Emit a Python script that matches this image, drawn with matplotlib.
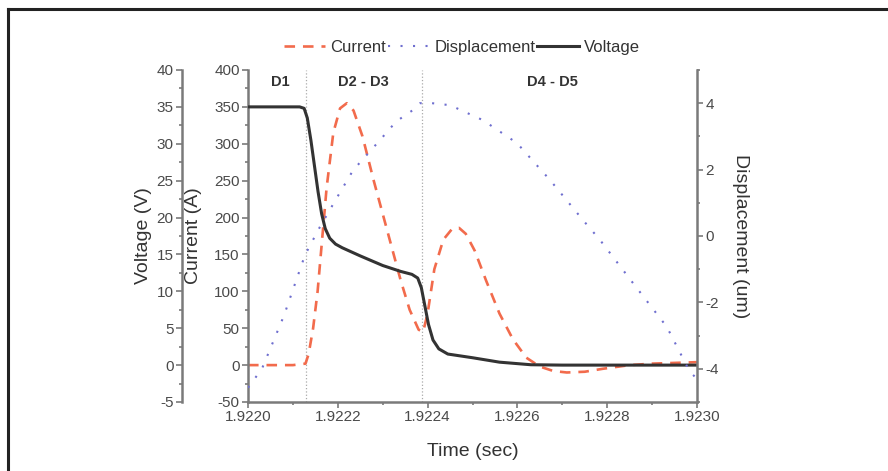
import numpy as np
import matplotlib
matplotlib.use("Agg")
import matplotlib.pyplot as plt
from matplotlib.ticker import MultipleLocator, FormatStrFormatter

plt.rcParams['font.family'] = ['Liberation Sans', 'DejaVu Sans']
plt.rcParams['axes.unicode_minus'] = False

T0 = 1.9220
# time offsets in units of 1e-4 s
t_volt = [0, 1.15, 1.25, 1.32, 1.4, 1.48, 1.56, 1.64, 1.72, 1.82, 1.95, 2.1, 2.5,
          3.0, 3.4, 3.65, 3.78, 3.86, 3.94, 4.02, 4.12, 4.25, 4.45, 5.0, 5.6,
          6.3, 7.0, 8.0, 9.0, 10.0]
voltage = [35, 35, 34.8, 33.5, 30.5, 27, 23.5, 20.5, 18.5, 17.2, 16.4, 15.9, 14.8,
           13.5, 12.7, 12.3, 11.8, 10.5, 8.0, 5.5, 3.4, 2.2, 1.5, 1.0, 0.4, 0.05,
           0, 0, 0, 0]

t_curr = [0, 1.0, 1.28, 1.35, 1.45, 1.55, 1.65, 1.75, 1.9, 2.05, 2.2, 2.35, 2.55,
          2.8, 3.0, 3.2, 3.4, 3.6, 3.8, 3.9, 4.0, 4.15, 4.35, 4.55, 4.7, 4.85, 5.05,
          5.3, 5.6, 5.9, 6.2, 6.5, 6.8, 7.1, 7.5, 7.9, 8.5, 9.0, 9.5, 10.0]
current = [0, 0, 2, 15, 50, 100, 170, 240, 315, 348, 355, 345, 310, 250, 205, 160,
           115, 75, 48, 45, 70, 130, 170, 185, 186, 178, 155, 115, 70, 35, 10, -2,
           -8, -10, -9, -5, 0, 2, 3, 4]

t_disp = [0, 0.31, 0.8, 1.27, 1.6, 2.0, 2.34, 2.94, 3.3, 3.67, 3.83, 4.1, 4.5, 5.23,
          5.99, 6.73, 7.46, 7.84, 8.57, 9.33, 9.84, 10.0]
displacement = [-4.57, -4.0, -2.4, -0.57, 0.27, 1.2, 1.98, 2.89, 3.45, 3.79, 4.0,
                4.0, 3.94, 3.49, 2.8, 1.68, 0.48, -0.12, -1.41, -2.74, -4.09, -4.3]

phase_lines = [1.29, 3.88]
phase_labels = ["D1", "D2 - D3", "D4 - D5"]
phase_label_x = [0.73, 2.56, 6.79]

t_v = T0 + np.array(t_volt) * 1e-4
t_c = T0 + np.array(t_curr) * 1e-4
t_d = T0 + np.array(t_disp) * 1e-4

spine_c = '#7a7a7a'
text_c = '#4a4a4a'
lab_c = '#333333'

fig = plt.figure(figsize=(8.88, 4.71), dpi=100)
ax = fig.add_axes([0.2793, 0.1465, 0.5056, 0.7049])
ax_v = ax.twinx()
ax_d = ax.twinx()

# voltage axis moved to the far left (66 px = 47.5 pt)
ax_v.yaxis.set_label_position('left')
ax_v.yaxis.set_ticks_position('left')
ax_v.spines['left'].set_position(('outward', 47.5))
ax_v.spines['left'].set_visible(True)
for s in ['top', 'right', 'bottom']:
    ax_v.spines[s].set_visible(False)
for s in ['top', 'left', 'bottom']:
    ax_d.spines[s].set_visible(False)
ax.spines['top'].set_visible(False)
ax.spines['right'].set_visible(False)

for a in (ax, ax_v, ax_d):
    for s in a.spines.values():
        s.set_color(spine_c)
        s.set_linewidth(1.8)
    a.tick_params(which='both', direction='out', color=spine_c, width=1.2,
                  labelsize=11, labelcolor=text_c, pad=2)
    a.tick_params(which='major', length=4)
    a.tick_params(which='minor', length=2.5)

ax.set_xlim(1.9220, 1.9230)
ax.set_ylim(-50, 400)
ax_v.set_ylim(-5, 40)
ax_d.set_ylim(-5, 5)

ax.xaxis.set_major_locator(MultipleLocator(0.0002))
ax.xaxis.set_minor_locator(MultipleLocator(0.0001))
ax.xaxis.set_major_formatter(FormatStrFormatter('%.4f'))
ax.yaxis.set_major_locator(MultipleLocator(50))
ax.yaxis.set_minor_locator(MultipleLocator(25))
ax_v.yaxis.set_major_locator(MultipleLocator(5))
ax_v.yaxis.set_minor_locator(MultipleLocator(2.5))
ax_d.set_yticks([-4, -2, 0, 2, 4])
ax_d.yaxis.set_minor_locator(MultipleLocator(1))

for x in phase_lines:
    ax.axvline(T0 + x * 1e-4, color='#aaaaaa', lw=0.9, ls=':', zorder=1)
for lab, x in zip(phase_labels, phase_label_x):
    ax.text(T0 + x * 1e-4, 384, lab, ha='center', va='center', fontsize=10.5,
            fontweight='bold', color='#333333')

l_c, = ax.plot(t_c, current, color='#f26b4c', lw=1.9, ls=(0, (4, 3)),
               label='Current')
l_d, = ax_d.plot(t_d, displacement, color='#6f6fcf', lw=1.5, ls=(0, (1, 5)),
                 label='Displacement')
l_v, = ax_v.plot(t_v, voltage, color='#333333', lw=2.2, label='Voltage')

ax.set_xlabel('Time (sec)', fontsize=14, color=lab_c)
ax.set_ylabel('Current (A)', fontsize=14, color=lab_c)
ax_v.set_ylabel('Voltage (V)', fontsize=14, color=lab_c)
ax_d.set_ylabel('Displacement (um)', fontsize=14, color=lab_c, rotation=-90,
                va='center')
ax.xaxis.set_label_coords(0.5, -0.125)
ax.yaxis.set_label_coords(-0.1025, 0.5)
ax_v.yaxis.set_label_coords(-0.214, 0.5)
ax_d.yaxis.set_label_coords(1.096, 0.5)

fig.legend([l_c, l_d, l_v], ['Current', 'Displacement', 'Voltage'],
           loc='center', bbox_to_anchor=(0.52, 0.9), ncol=3, frameon=False,
           fontsize=12, handlelength=2.5, handletextpad=0.3, columnspacing=0.1,
           labelcolor=lab_c)

# outer frame lines (top and left only)
fig.add_artist(plt.Line2D([0.009, 1.0], [0.981, 0.981], color='#222222', lw=2.2,
                          transform=fig.transFigure))
fig.add_artist(plt.Line2D([0.009, 0.009], [0.0, 0.981], color='#222222', lw=2.2,
                          transform=fig.transFigure))

fig.savefig('out.png', dpi=100)
